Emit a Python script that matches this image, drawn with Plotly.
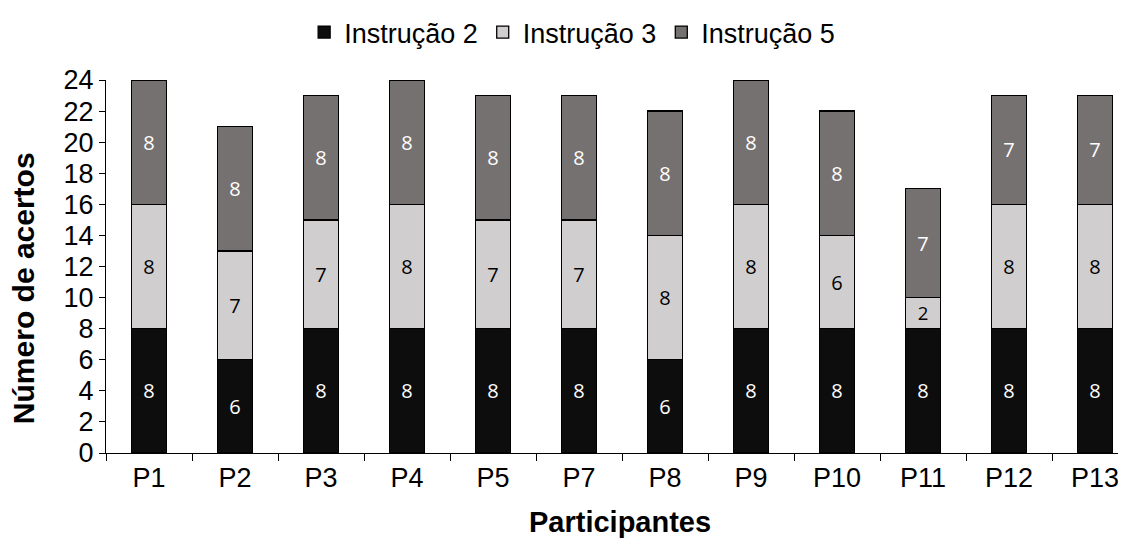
import plotly.graph_objects as go

participants = ["P1", "P2", "P3", "P4", "P5", "P7", "P8", "P9", "P10", "P11", "P12", "P13"]
instrucao2 = [8, 6, 8, 8, 8, 8, 6, 8, 8, 8, 8, 8]
instrucao3 = [8, 7, 7, 8, 7, 7, 8, 8, 6, 2, 8, 8]
instrucao5 = [8, 8, 8, 8, 8, 8, 8, 8, 8, 7, 7, 7]
series_names = ["Instrução 2", "Instrução 3", "Instrução 5"]
y_ticks = list(range(0, 25, 2))

colors = ["#0d0d0d", "#d0cece", "#767171"]
text_colors = ["white", "black", "white"]

fig = go.Figure()
for name, vals, c, tc in zip(series_names, [instrucao2, instrucao3, instrucao5], colors, text_colors):
    fig.add_trace(go.Bar(
        x=participants, y=vals, name=name,
        marker=dict(color=c, line=dict(color="black", width=1.3)),
        text=[str(v) for v in vals], textposition="inside",
        insidetextanchor="middle", textangle=0,
        textfont=dict(color=tc, size=20, family="Open Sans"),
        width=0.41,
    ))

fig.update_layout(
    barmode="stack",
    width=1126, height=542,
    margin=dict(l=98, r=8, t=72, b=97),
    plot_bgcolor="white", paper_bgcolor="white",
    font=dict(family="Liberation Sans", size=27, color="black"),
    uniformtext=dict(mode=False),
    legend=dict(orientation="h", x=0.457, xanchor="center",
                yref="container", y=1.0, yanchor="top",
                font=dict(size=27), traceorder="normal", itemwidth=30,
                bgcolor="rgba(0,0,0,0)"),
    xaxis=dict(
        type="category", range=[-0.5, 11.36], automargin=False,
        showline=True, linecolor="black", linewidth=1.3,
        ticks="outside", tickson="boundaries", ticklen=7, tickcolor="black", tickwidth=1.3,
        tickfont=dict(size=27),
    ),
    yaxis=dict(
        range=[0, 24], tickvals=y_ticks, automargin=False,
        showline=True, linecolor="black", linewidth=1.3, showgrid=False, zeroline=False,
        ticks="outside", ticklen=6, tickcolor="black", tickwidth=1.3,
        tickfont=dict(size=27),
    ),
    annotations=[
        dict(text="<b>Número de acertos</b>", textangle=-90, showarrow=False,
             xref="paper", yref="paper", x=0, y=0.442, xanchor="center", yanchor="middle",
             xshift=-83, font=dict(size=30)),
        dict(text="<b>Participantes</b>", showarrow=False,
             xref="paper", yref="paper", x=0.504, y=0, xanchor="center", yanchor="middle",
             yshift=-69, font=dict(size=29)),
    ],
)

fig.write_html("out.html")
